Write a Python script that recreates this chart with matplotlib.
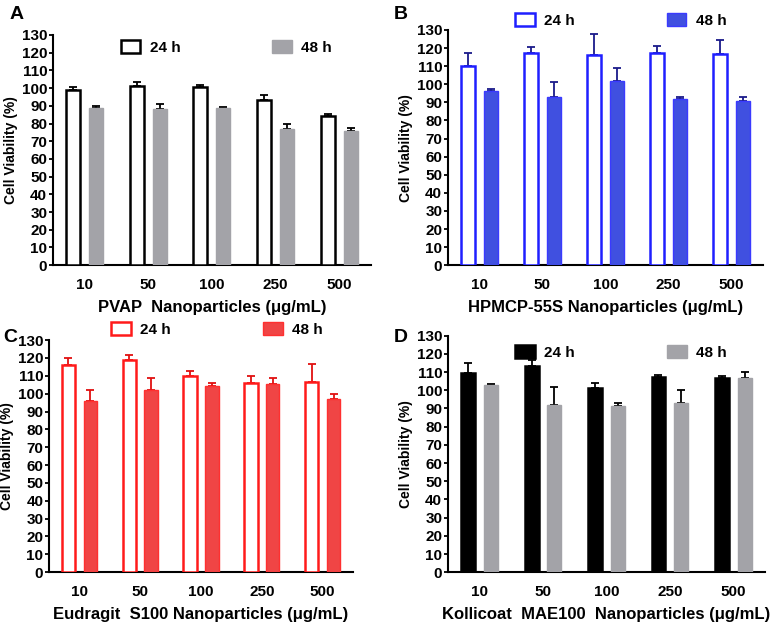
import numpy as np
import matplotlib.pyplot as plt
from matplotlib.patches import Patch

plt.rcParams['font.family'] = ['Liberation Sans', 'DejaVu Sans']
plt.rcParams['font.weight'] = 'bold'

# concentrations (ug/mL)
conc = ['10', '50', '100', '250', '500']

# panel A: PVAP
pvap_24 = [99, 101, 100.5, 93, 84]
pvap_24_err = [1.5, 2.5, 1.5, 3, 1.5]
pvap_48 = [89, 88, 89, 77, 75.5]
pvap_48_err = [1, 3, 0.5, 3, 2]

# panel B: HPMCP-55S
hpmcp_24 = [110, 117.5, 116, 117.5, 116.5]
hpmcp_24_err = [7, 3, 11.5, 3.5, 8]
hpmcp_48 = [96, 93, 102, 92, 91]
hpmcp_48_err = [1.5, 8, 7, 1, 2]

# panel C: Eudragit S100
eud_24 = [116, 119, 110, 106, 106.5]
eud_24_err = [4, 2.5, 2.5, 4, 10]
eud_48 = [96, 102, 104.5, 105.5, 97]
eud_48_err = [6, 6.5, 1.5, 3, 3]

# panel D: Kollicoat MAE100
koll_24 = [109.5, 113.5, 101.5, 107.5, 107]
koll_24_err = [5.5, 3, 2.5, 1, 1]
koll_48 = [103, 92, 91.5, 93, 107]
koll_48_err = [0.5, 10, 1.5, 7, 3]

fig = plt.figure(figsize=(7.76, 6.24), dpi=100)

panels = [
    # letter, rect, d24, e24, d48, e48, style24, style48, err colour, xlabel, legend pos, letter pos
    ('A', [0.068, 0.575, 0.410, 0.369], pvap_24, pvap_24_err, pvap_48, pvap_48_err,
     dict(fc='white', ec='black'), dict(fc='#a3a3a8', ec='#a3a3a8'), 'black',
     'PVAP  Nanoparticles (\u03bcg/mL)', (0.17, 0.945), (0.012, 0.99)),
    ('B', [0.577, 0.575, 0.406, 0.377], hpmcp_24, hpmcp_24_err, hpmcp_48, hpmcp_48_err,
     dict(fc='white', ec='#1f1fff'), dict(fc='#4050e0', ec='#3a3aff'), '#1a1a8a',
     'HPMCP-55S Nanoparticles (\u03bcg/mL)', (0.17, 1.04), (0.508, 0.99)),
    ('C', [0.063, 0.083, 0.392, 0.372], eud_24, eud_24_err, eud_48, eud_48_err,
     dict(fc='white', ec='#ff1a1a'), dict(fc='#f04545', ec='#ff3030'), '#e01010',
     'Eudragit  S100 Nanoparticles (\u03bcg/mL)', (0.16, 1.045), (0.004, 0.472)),
    ('D', [0.577, 0.083, 0.409, 0.379], koll_24, koll_24_err, koll_48, koll_48_err,
     dict(fc='black', ec='black'), dict(fc='#a3a3a8', ec='#a3a3a8'), 'black',
     'Kollicoat  MAE100  Nanoparticles (\u03bcg/mL)', (0.17, 0.93), (0.508, 0.472)),
]

x = np.arange(len(conc))
w = 0.22
off = 0.18

for (letter, rect, d24, e24, d48, e48, s24, s48, errc, xlabel, legpos, letpos) in panels:
    ax = fig.add_axes(rect)
    ax.bar(x - off, d24, w, linewidth=1.8, zorder=3, **s24)
    ax.bar(x + off, d48, w, linewidth=1.0, zorder=3, **s48)
    ax.errorbar(x - off, d24, yerr=[np.zeros(5), e24], fmt='none', ecolor=errc,
                elinewidth=1.3, capsize=3, capthick=1.3, zorder=2)
    ax.errorbar(x + off, d48, yerr=[np.zeros(5), e48], fmt='none', ecolor=errc,
                elinewidth=1.3, capsize=3, capthick=1.3, zorder=2)
    ax.set_xlim(-0.5, 4.5)
    ax.set_ylim(0, 130)
    ax.set_yticks(np.arange(0, 131, 10))
    ax.set_xticks(x)
    ax.set_xticklabels(conc)
    ax.tick_params(axis='y', labelsize=11, width=1.3, length=3, pad=1)
    ax.tick_params(axis='x', labelsize=11, length=0, pad=9)
    for t in ax.get_yticklabels() + ax.get_xticklabels():
        t.set_fontweight('bold')
    for sp in ['top', 'right']:
        ax.spines[sp].set_visible(False)
    for sp in ['left', 'bottom']:
        ax.spines[sp].set_linewidth(1.5)
    ax.set_ylabel('Cell Viability (%)', fontsize=10, fontweight='bold', labelpad=3)
    ax.set_xlabel(xlabel, fontsize=12, fontweight='bold', labelpad=6)
    handles = [Patch(linewidth=1.8, **s24), Patch(linewidth=1.0, **s48)]
    ax.legend(handles, ['24 h', '48 h'], ncol=2, frameon=False, loc='center left',
              bbox_to_anchor=legpos, columnspacing=6.0, handlelength=1.3,
              handleheight=0.9, handletextpad=0.6,
              prop={'size': 11, 'weight': 'bold'})
    fig.text(letpos[0], letpos[1], letter, fontsize=14, fontweight='bold',
             ha='left', va='top')

fig.savefig('out.png', dpi=100)
